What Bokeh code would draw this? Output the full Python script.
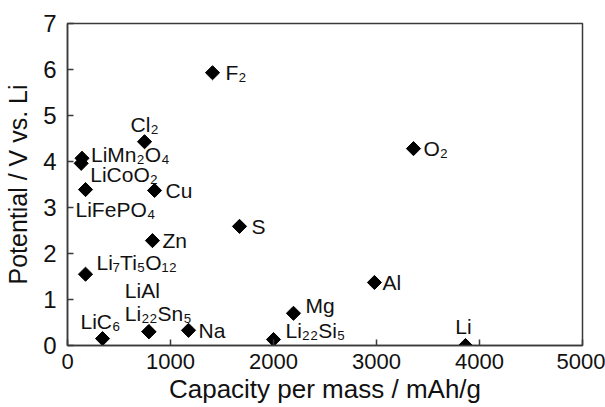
import math
from bokeh.plotting import figure
from bokeh.models import ColumnDataSource, FixedTicker
from bokeh.core.properties import value
from bokeh.embed import file_html
from bokeh.resources import INLINE

# ---- data ----
names = ["F₂", "Cl₂", "LiMn₂O₄", "LiCoO₂", "LiFePO₄", "Cu", "Zn", "S",
         "Li₇Ti₅O₁₂", "LiAl", "Li₂₂Sn₅", "LiC₆", "Na", "Li₂₂Si₅", "Mg",
         "Al", "Li", "O₂"]
capacity = [1408, 748, 141, 133, 175, 845, 825, 1670,
            175, 790, 790, 340, 1175, 2000, 2194,
            2980, 3864, 3359]
potential = [5.93, 4.43, 4.07, 3.96, 3.39, 3.37, 2.28, 2.59,
             1.55, 0.30, 0.30, 0.15, 0.33, 0.13, 0.70,
             1.37, 0.00, 4.28]
x_ticks = [0, 1000, 2000, 3000, 4000, 5000]
y_ticks = [0, 1, 2, 3, 4, 5, 6, 7]

# ---- label placement (pixel offsets, styling only) ----
label_style = {
    "F₂": ("left", 13, 0), "Cl₂": ("center", 0, 17),
    "LiMn₂O₄": ("left", 9, 4), "LiCoO₂": ("left", 9, -11),
    "LiFePO₄": ("left", -10, -20), "Cu": ("left", 11, 0),
    "Zn": ("left", 10, 0), "S": ("left", 12, 0),
    "Li₇Ti₅O₁₂": ("left", 11, 12), "LiAl": ("left", -24, 41),
    "Li₂₂Sn₅": ("left", -24, 18), "LiC₆": ("left", -22, 17),
    "Na": ("left", 10, 0), "Li₂₂Si₅": ("left", 12, 9),
    "Mg": ("left", 12, 8), "Al": ("left", 8, 0),
    "Li": ("center", -2, 19), "O₂": ("left", 10, 0),
}

FONT = "Liberation Sans"
INK = "#111111"
FRAME = "#3a3a3a"

p = figure(width=605, height=407, x_range=(0, 5000), y_range=(0, 7),
           output_backend="svg", toolbar_location=None,
           min_border_left=67, min_border_right=23,
           min_border_top=23, min_border_bottom=62)
p.background_fill_color = "white"
p.border_fill_color = "white"
p.grid.visible = False
p.outline_line_color = FRAME
p.outline_line_width = 1.5

p.xaxis.ticker = FixedTicker(ticks=x_ticks)
p.yaxis.ticker = FixedTicker(ticks=y_ticks)
for ax in (p.xaxis, p.yaxis):
    ax.major_tick_in = 6
    ax.major_tick_out = 0
    ax.minor_tick_line_color = None
    ax.axis_line_color = FRAME
    ax.axis_line_width = 1.5
    ax.major_tick_line_color = FRAME
    ax.major_tick_line_width = 1.5
    ax.major_label_text_color = INK
    ax.axis_label_text_color = INK
    ax.axis_label_text_font_style = "normal"
    ax.axis_label_text_font = FONT
    ax.major_label_text_font = FONT

p.xaxis.axis_label = "Capacity per mass / mAh/g"
p.yaxis.axis_label = "Potential / V vs. Li"
p.xaxis.axis_label_text_font_size = "26px"
p.yaxis.axis_label_text_font_size = "25px"
p.xaxis.major_label_text_font_size = "22px"
p.yaxis.major_label_text_font_size = "24px"
p.xaxis.major_label_standoff = 8
p.yaxis.major_label_standoff = 11
p.xaxis.axis_label_standoff = 2
p.yaxis.axis_label_standoff = 8

src = ColumnDataSource(dict(x=capacity, y=potential, name=names))
p.scatter("x", "y", source=src, marker="square", size=10, angle=math.pi / 4,
          fill_color="black", line_color="black")

for align in ("left", "center"):
    sel = [i for i, n in enumerate(names) if label_style[n][0] == align]
    s = ColumnDataSource(dict(
        x=[capacity[i] for i in sel],
        y=[potential[i] for i in sel],
        t=[names[i] for i in sel],
        dx=[label_style[names[i]][1] for i in sel],
        dy=[-label_style[names[i]][2] for i in sel],
    ))
    p.text("x", "y", text="t", source=s, x_offset="dx", y_offset="dy",
           text_align=align, text_baseline="middle",
           text_font=value(FONT), text_font_size="21px", text_color=INK)

open("out.html", "w").write(file_html(p, INLINE))
